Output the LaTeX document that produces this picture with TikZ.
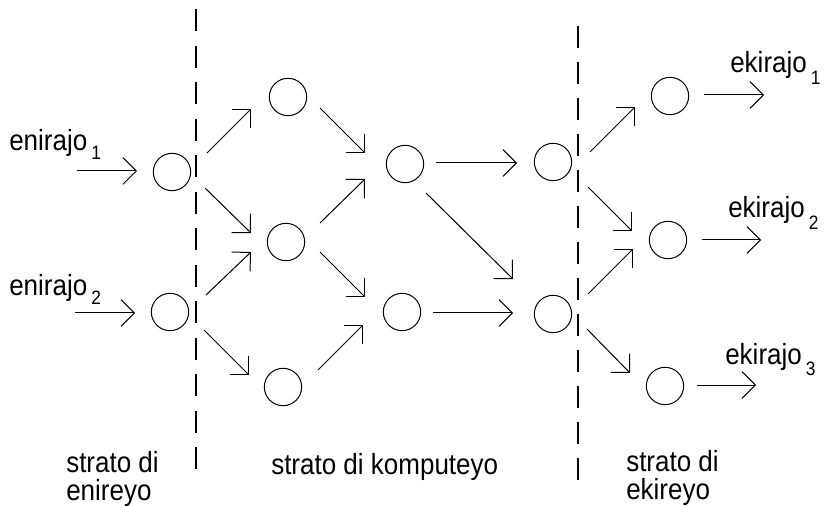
\documentclass[tikz,border=0pt]{standalone}
\usepackage{fontspec}
\setmainfont{Liberation Sans}
\usetikzlibrary{arrows.meta,calc}
\newcommand\txs[1]{\scalebox{1}[1.12]{#1}}
\newcommand\sbi[1]{\kern3pt\raisebox{-6.2pt}{\fontsize{13}{13}\selectfont #1}}
\newcommand\sbo[1]{\kern3pt\raisebox{-7.8pt}{\fontsize{13}{13}\selectfont #1}}
\begin{document}
\begin{tikzpicture}[x=0.75pt,y=-0.75pt,
  neuron/.style={circle,draw,line width=0.75pt,minimum size=28pt,inner sep=0pt},
  arr/.style={line width=0.75pt,-{Straight Barb[length=10pt,width=20pt]}},
  lbl/.style={inner sep=0pt,anchor=base west,font=\fontsize{19.5}{17.4}\selectfont},
  sepline/.style={line width=1.5pt}]
\useasboundingbox (0,0) rectangle (829,506);
% separators
\coordinate (d1a) at (196,9);   \coordinate (d1b) at (196,469);
\coordinate (d2a) at (578,26);  \coordinate (d2b) at (578,480);
\draw[sepline,dash pattern=on 16.5pt off 10.9pt] (d1a) -- (d1b);
\draw[sepline,dash pattern=on 16.5pt off 10.5pt] (d2a) -- (d2b);
% nodes
\node[neuron] (in1) at (172,172) {};
\node[neuron] (in2) at (170,312) {};
\node[neuron] (h1) at (288,97) {};
\node[neuron] (h2) at (286,242) {};
\node[neuron] (h3) at (283,387) {};
\node[neuron] (c1) at (405,164) {};
\node[neuron] (c2) at (402,312) {};
\node[neuron] (o1) at (553,162) {};
\node[neuron] (o2) at (553,314) {};
\node[neuron] (y1) at (670,96) {};
\node[neuron] (y2) at (668,240) {};
\node[neuron] (y3) at (665,386) {};
% free ends
\coordinate (s1) at (77,171);
\coordinate (s2) at (75,313);
\coordinate (e1) at (764,95);
\coordinate (e2) at (761,240);
\coordinate (e3) at (756,385);
% inputs
\draw[arr] (s1) -- ($(in1)+(-35,-1)$);
\draw[arr] (s2) -- ($(in2)+(-35,1)$);
% layer 1 -> 2
\draw[arr] ($(in1)+(35,-19)$) -- ($(h1)+(-37,12)$);
\draw[arr] ($(in1)+(33,16)$) -- ($(h2)+(-35,-9)$);
\draw[arr] ($(in2)+(36,-17)$) -- ($(h2)+(-35,10)$);
\draw[arr] ($(in2)+(34,18)$) -- ($(h3)+(-34,-12)$);
% layer 2 -> 3
\draw[arr] ($(h1)+(32,11)$) -- ($(c1)+(-40,-11)$);
\draw[arr] ($(h2)+(34,-19)$) -- ($(c1)+(-40,15)$);
\draw[arr] ($(h2)+(34,10)$) -- ($(c2)+(-37,-15)$);
\draw[arr] ($(h3)+(35,-17)$) -- ($(c2)+(-39,13)$);
% layer 3 -> 4
\draw[arr] ($(c1)+(31,-1)$) -- ($(o1)+(-36,1)$);
\draw[arr] ($(c1)+(21,29)$) -- ($(o2)+(-40,-35)$);
\draw[arr] ($(c2)+(31,1)$) -- ($(o2)+(-40,-1)$);
% layer 4 -> 5
\draw[arr] ($(o1)+(37,-10)$) -- ($(y1)+(-35,11)$);
\draw[arr] ($(o1)+(35,25)$) -- ($(y2)+(-36,-9)$);
\draw[arr] ($(o2)+(35,-20)$) -- ($(y2)+(-35,9)$);
\draw[arr] ($(o2)+(34,15)$) -- ($(y3)+(-35,-13)$);
% outputs
\draw[arr] ($(y1)+(34,-1)$) -- (e1);
\draw[arr] ($(y2)+(34,0)$) -- (e2);
\draw[arr] ($(y3)+(32,-1)$) -- (e3);
% labels
\node[lbl] (lin1) at (9,150.5) {\txs{enirajo\sbi{1}}};
\node[lbl] (lin2) at (9,295.5) {\txs{enirajo\sbi{2}}};
\node[lbl] (lout1) at (730,73) {\txs{ekirajo\sbo{1}}};
\node[lbl] (lout2) at (728,218) {\txs{ekirajo\sbo{2}}};
\node[lbl] (lout3) at (725,364) {\txs{ekirajo\sbo{3}}};
\node[lbl] (lay1) at (66,472) {\txs{\begin{tabular}[t]{@{}l@{}}strato di\\enireyo\end{tabular}}};
\node[lbl] (lay2) at (271,474) {\txs{strato di komputeyo}};
\node[lbl] (lay3) at (626,471) {\txs{\begin{tabular}[t]{@{}l@{}}strato di\\ekireyo\end{tabular}}};
\end{tikzpicture}
\end{document}
